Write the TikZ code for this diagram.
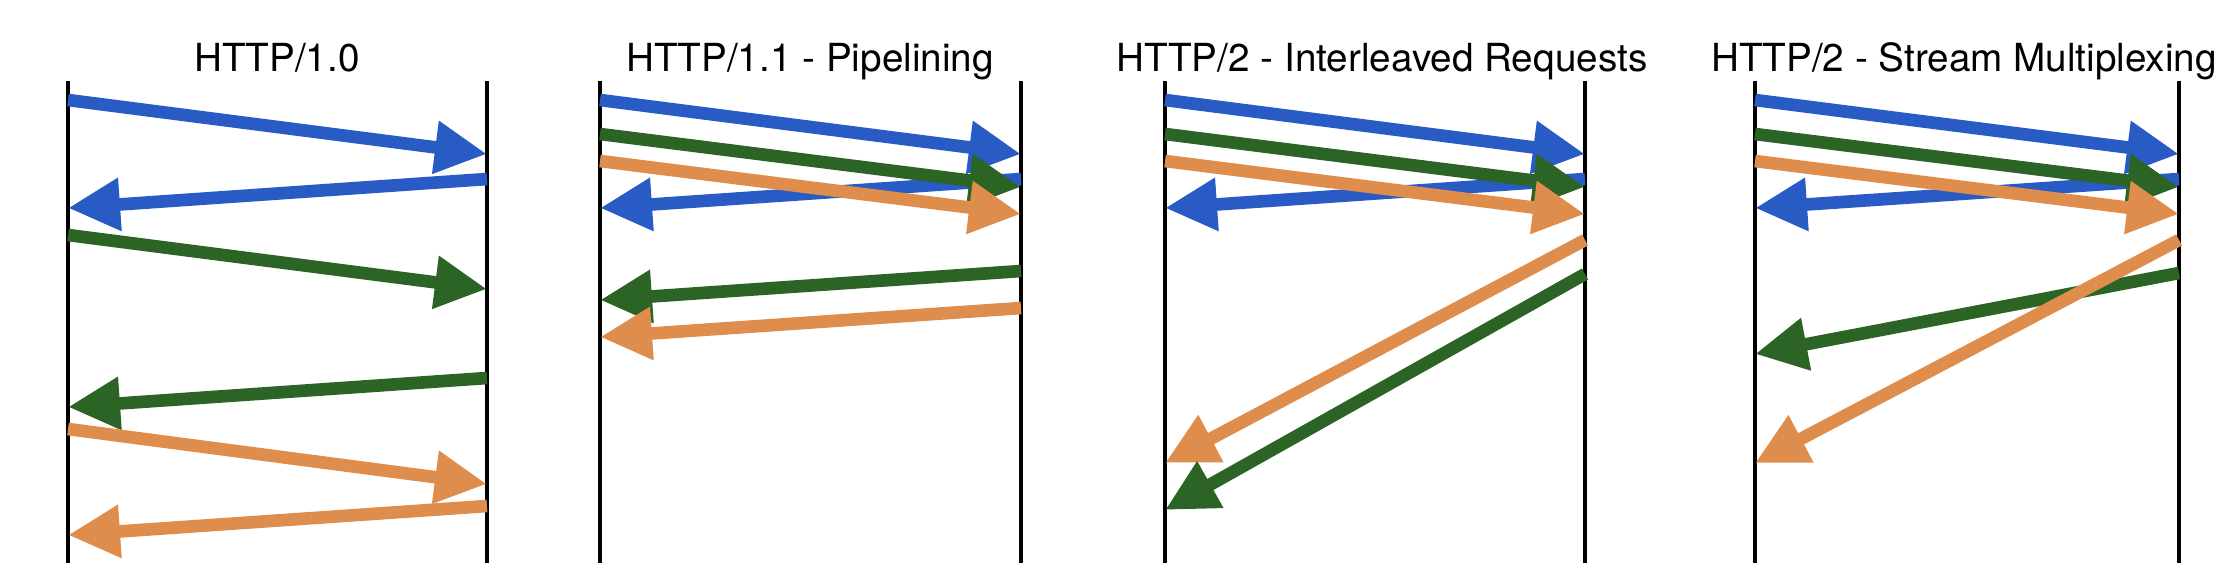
\documentclass[tikz,border=0pt]{standalone}
\usepackage{fontspec}
\setmainfont{TeX Gyre Heros}
\usepackage{xcolor}
\usetikzlibrary{arrows.meta}

\definecolor{reqblue}{RGB}{41,91,196}
\definecolor{reqgreen}{RGB}{44,100,38}
\definecolor{reqorange}{RGB}{222,141,76}

\begin{document}
\begin{tikzpicture}[
    x=0.01cm, y=-0.01cm,
    >={Triangle[length=5.2mm, width=5mm]},
    lifeline/.style={line width=1pt, draw=black},
    heading/.style={anchor=base, inner sep=0pt, font=\fontsize{11}{13}\selectfont},
    msg/.style={->, line width=3.6pt},
    bluemsg/.style={msg, draw=reqblue},
    greenmsg/.style={msg, draw=reqgreen},
    orangemsg/.style={msg, draw=reqorange}
]
\useasboundingbox (0,0) rectangle (2233,581);

% Lifelines: client (c) and server (s) for each panel
\coordinate (c1) at (68,81);   \coordinate (c1b) at (68,563);
\coordinate (s1) at (487,81);  \coordinate (s1b) at (487,563);
\coordinate (c2) at (600,81);  \coordinate (c2b) at (600,563);
\coordinate (s2) at (1021,81); \coordinate (s2b) at (1021,563);
\coordinate (c3) at (1165,81); \coordinate (c3b) at (1165,563);
\coordinate (s3) at (1585,81); \coordinate (s3b) at (1585,563);
\coordinate (c4) at (1755,81); \coordinate (c4b) at (1755,563);
\coordinate (s4) at (2179,81); \coordinate (s4b) at (2179,563);

\foreach \i in {1,2,3,4} {
  \draw[lifeline] (c\i) -- (c\i b);
  \draw[lifeline] (s\i) -- (s\i b);
}

% Headings
\node[heading] (h1) at (277,71) {HTTP/1.0};
\node[heading] (h2) at (810,71) {HTTP/1.1 - Pipelining};
\node[heading] (h3) at (1382,71) {HTTP/2 - Interleaved Requests};
\node[heading] (h4) at (1964,71) {HTTP/2 - Stream Multiplexing};

% Panel 1: HTTP/1.0
\draw[bluemsg] (c1 |- 0,100) -- (s1 |- 0,154);
\draw[bluemsg] (s1 |- 0,179) -- (c1 |- 0,208);
\draw[greenmsg] (c1 |- 0,235) -- (s1 |- 0,289);
\draw[greenmsg] (s1 |- 0,378) -- (c1 |- 0,407);
\draw[orangemsg] (c1 |- 0,429) -- (s1 |- 0,484);
\draw[orangemsg] (s1 |- 0,506) -- (c1 |- 0,535);

% Panel 2: HTTP/1.1 pipelining
\draw[bluemsg] (s2 |- 0,179) -- (c2 |- 0,208);
\draw[bluemsg] (c2 |- 0,100) -- (s2 |- 0,154);
\draw[greenmsg] (c2 |- 0,134) -- (s2 |- 0,187);
\draw[orangemsg] (c2 |- 0,161) -- (s2 |- 0,214);
\draw[greenmsg] (s2 |- 0,271) -- (c2 |- 0,300);
\draw[orangemsg] (s2 |- 0,308) -- (c2 |- 0,337);

% Panel 3: HTTP/2 interleaved
\draw[bluemsg] (s3 |- 0,179) -- (c3 |- 0,208);
\draw[bluemsg] (c3 |- 0,100) -- (s3 |- 0,154);
\draw[greenmsg] (c3 |- 0,134) -- (s3 |- 0,187);
\draw[orangemsg] (c3 |- 0,161) -- (s3 |- 0,214);
\draw[orangemsg] (s3 |- 0,240) -- (c3 |- 0,463);
\draw[greenmsg] (s3 |- 0,274) -- (c3 |- 0,510);

% Panel 4: HTTP/2 multiplexing
\draw[bluemsg] (s4 |- 0,179) -- (c4 |- 0,208);
\draw[bluemsg] (c4 |- 0,100) -- (s4 |- 0,154);
\draw[greenmsg] (c4 |- 0,134) -- (s4 |- 0,187);
\draw[orangemsg] (c4 |- 0,161) -- (s4 |- 0,214);
\draw[greenmsg] (s4 |- 0,273) -- (c4 |- 0,354);
\draw[orangemsg] (s4 |- 0,240) -- (c4 |- 0,463);

\end{tikzpicture}
\end{document}
